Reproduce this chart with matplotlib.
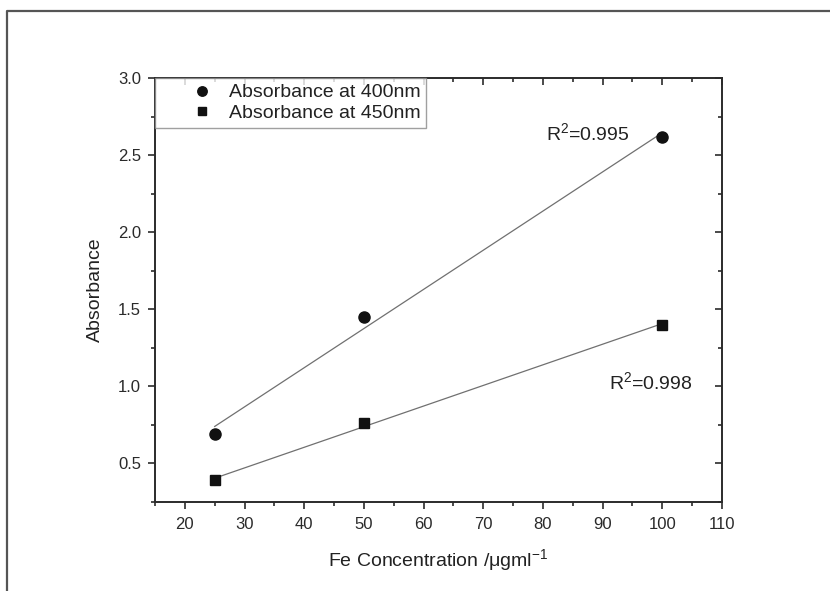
import numpy as np
import matplotlib
matplotlib.use("Agg")
import matplotlib.pyplot as plt
from matplotlib.lines import Line2D
from matplotlib.ticker import MultipleLocator

plt.rcParams['font.family'] = ['Liberation Sans', 'DejaVu Sans']
plt.rcParams['mathtext.fontset'] = 'custom'
plt.rcParams['mathtext.rm'] = 'Liberation Sans'
plt.rcParams['mathtext.it'] = 'Liberation Sans:italic'

# data
conc = np.array([25, 50, 100])
abs_400 = np.array([0.69, 1.45, 2.62])
abs_450 = np.array([0.39, 0.76, 1.40])
r2_labels = ['R$^2$=0.995', 'R$^2$=0.998']

ink = '#2b2b2b'

fig = plt.figure(figsize=(8.3, 5.91), dpi=100)
ax = fig.add_axes([155/830, 1 - 502/591, (722 - 155)/830, (502 - 78)/591])

# linear fits drawn from the data
for y in (abs_400, abs_450):
    k, b = np.polyfit(conc, y, 1)
    xx = np.array([conc.min(), conc.max()])
    ax.plot(xx, k*xx + b, color='#707070', lw=0.9, zorder=2)

ax.plot(conc, abs_400, 'o', color='#111111', ms=8, ls='none',
        label='Absorbance at 400nm', zorder=3)
ax.plot(conc, abs_450, 's', color='#111111', ms=7, ls='none',
        label='Absorbance at 450nm', zorder=3)

ax.text(80.5, 2.64, r2_labels[0], fontsize=14, color='#222222', va='center')
ax.text(91, 1.03, r2_labels[1], fontsize=14, color='#222222', va='center')

ax.set_xlim(15, 110)
ax.set_ylim(0.25, 3.0)
ax.xaxis.set_major_locator(MultipleLocator(10))
ax.xaxis.set_minor_locator(MultipleLocator(5))
ax.yaxis.set_major_locator(MultipleLocator(0.5))
ax.yaxis.set_minor_locator(MultipleLocator(0.25))
ax.set_xticks(np.arange(20, 111, 10))
ax.set_yticks(np.arange(0.5, 3.01, 0.5))
ax.yaxis.set_major_formatter(matplotlib.ticker.FormatStrFormatter('%.1f'))

for sp in ax.spines.values():
    sp.set_color(ink)
    sp.set_linewidth(1.4)

ax.tick_params(which='both', direction='out', color=ink, width=1.2,
               labelsize=12, labelcolor='#2a2a2a')
ax.tick_params(which='major', length=5, pad=5)
ax.tick_params(which='minor', length=3)
ax.tick_params(axis='x', which='major', pad=6)
# inward ticks on top and right, no labels
ax2 = ax.secondary_xaxis('top')
ax2.xaxis.set_major_locator(MultipleLocator(10))
ax2.xaxis.set_minor_locator(MultipleLocator(5))
ax2.tick_params(which='both', direction='in', color=ink, width=1.2, labeltop=False)
ax2.tick_params(which='major', length=5)
ax2.tick_params(which='minor', length=3)
ax3 = ax.secondary_yaxis('right')
ax3.yaxis.set_major_locator(MultipleLocator(0.5))
ax3.yaxis.set_minor_locator(MultipleLocator(0.25))
ax3.tick_params(which='both', direction='in', color=ink, width=1.2, labelright=False)
ax3.tick_params(which='major', length=5)
ax3.tick_params(which='minor', length=3)
for s in (ax2, ax3):
    for sp in s.spines.values():
        sp.set_visible(False)

ax.set_xlabel('Fe Concentration /\u03bcgml$^{-1}$', fontsize=14, color='#222222', labelpad=11)
ax.set_ylabel('Absorbance', fontsize=14, color='#222222', labelpad=10)

leg = ax.legend(loc='upper left', bbox_to_anchor=(0.0, 1.0), fontsize=14,
                frameon=True, fancybox=False, borderaxespad=0.0,
                handlelength=4.2, handletextpad=-0.7, borderpad=0.3,
                labelspacing=0.15, markerscale=0.85)
leg.get_frame().set_edgecolor('#888888')
leg.get_frame().set_linewidth(1.0)
for t in leg.get_texts():
    t.set_color('#222222')

# outer frame (top and left edges of the page box)
W, H = 830, 591
fig.add_artist(Line2D([7/W, 7/W, 1.0], [0.0, 1 - 10.5/H, 1 - 10.5/H],
                      transform=fig.transFigure, color='#555555', lw=1.6))

fig.savefig('out.png', dpi=100)
